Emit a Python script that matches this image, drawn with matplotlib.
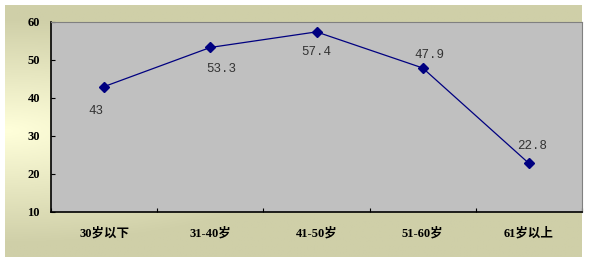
import matplotlib.pyplot as plt
import numpy as np
from matplotlib.colors import LinearSegmentedColormap

plt.rcParams['font.family'] = ['Liberation Serif', 'Noto Sans CJK SC', 'DejaVu Sans']

categories = ['30岁以下', '31-40岁', '41-50岁', '51-60岁', '61岁以上']
values = [43, 53.3, 57.4, 47.9, 22.8]
labels = ['43', '53.3', '57.4', '47.9', '22.8']
# label offsets in pixels (dx, dy), screen coords
offsets = [(-8, -24), (11, -22), (0, -20), (7, 13), (3, 17)]

fig = plt.figure(figsize=(5.9, 2.64), dpi=100)
fig.patch.set_facecolor('white')

# gradient background of the chart area
bg = fig.add_axes([5/590, 7/264, 577/590, 252/264], zorder=0)
yy, xx = np.mgrid[0:1:200j, 0:1:400j]
d = np.sqrt((xx / 0.6) ** 2 + ((yy - 0.5) / 0.45) ** 2)
grad = np.clip(d, 0, 1)
cmap = LinearSegmentedColormap.from_list('bg', ['#FFFFDA', '#CFCFA8'])
bg.imshow(grad, cmap=cmap, aspect='auto', extent=[0, 1, 0, 1], vmin=0, vmax=1)
bg.axis('off')

ax = fig.add_axes([51/590, 52/264, 531/590, 190/264], zorder=1)
ax.set_facecolor('#C0C0C0')

x = np.arange(len(categories))
ax.plot(x, values, color='#000080', lw=0.9, marker='D', markersize=5.5,
        markerfacecolor='#000080', markeredgecolor='#000080')

for xi, v, lab, (dx, dy) in zip(x, values, labels, offsets):
    ax.annotate(lab, (xi, v), xytext=(dx * 0.72, dy * 0.72), textcoords='offset points',
                ha='center', va='center', fontsize=9, color='#333333',
                family=['Liberation Mono', 'DejaVu Sans Mono'])

ax.set_xlim(-0.5, len(categories) - 0.5)
ax.set_ylim(10, 60)
ax.set_yticks([10, 20, 30, 40, 50, 60])
ax.set_xticks(x)
ax.set_xticklabels(categories)
ax.set_xticks(np.arange(-0.5, len(categories)), minor=True)

ax.tick_params(axis='x', which='major', length=0, pad=11)
ax.tick_params(axis='x', which='minor', direction='in', length=3, width=0.8)
ax.tick_params(axis='y', direction='in', length=3, width=0.8, pad=8)
for t in ax.get_xticklabels() + ax.get_yticklabels():
    t.set_fontweight('bold')
    t.set_fontsize(9)

ax.spines['left'].set_color('black')
ax.spines['bottom'].set_color('black')
ax.spines['left'].set_linewidth(1.2)
ax.spines['bottom'].set_linewidth(1.2)
ax.spines['top'].set_color('#808080')
ax.spines['right'].set_color('#808080')

plt.savefig('out.png', dpi=100)
